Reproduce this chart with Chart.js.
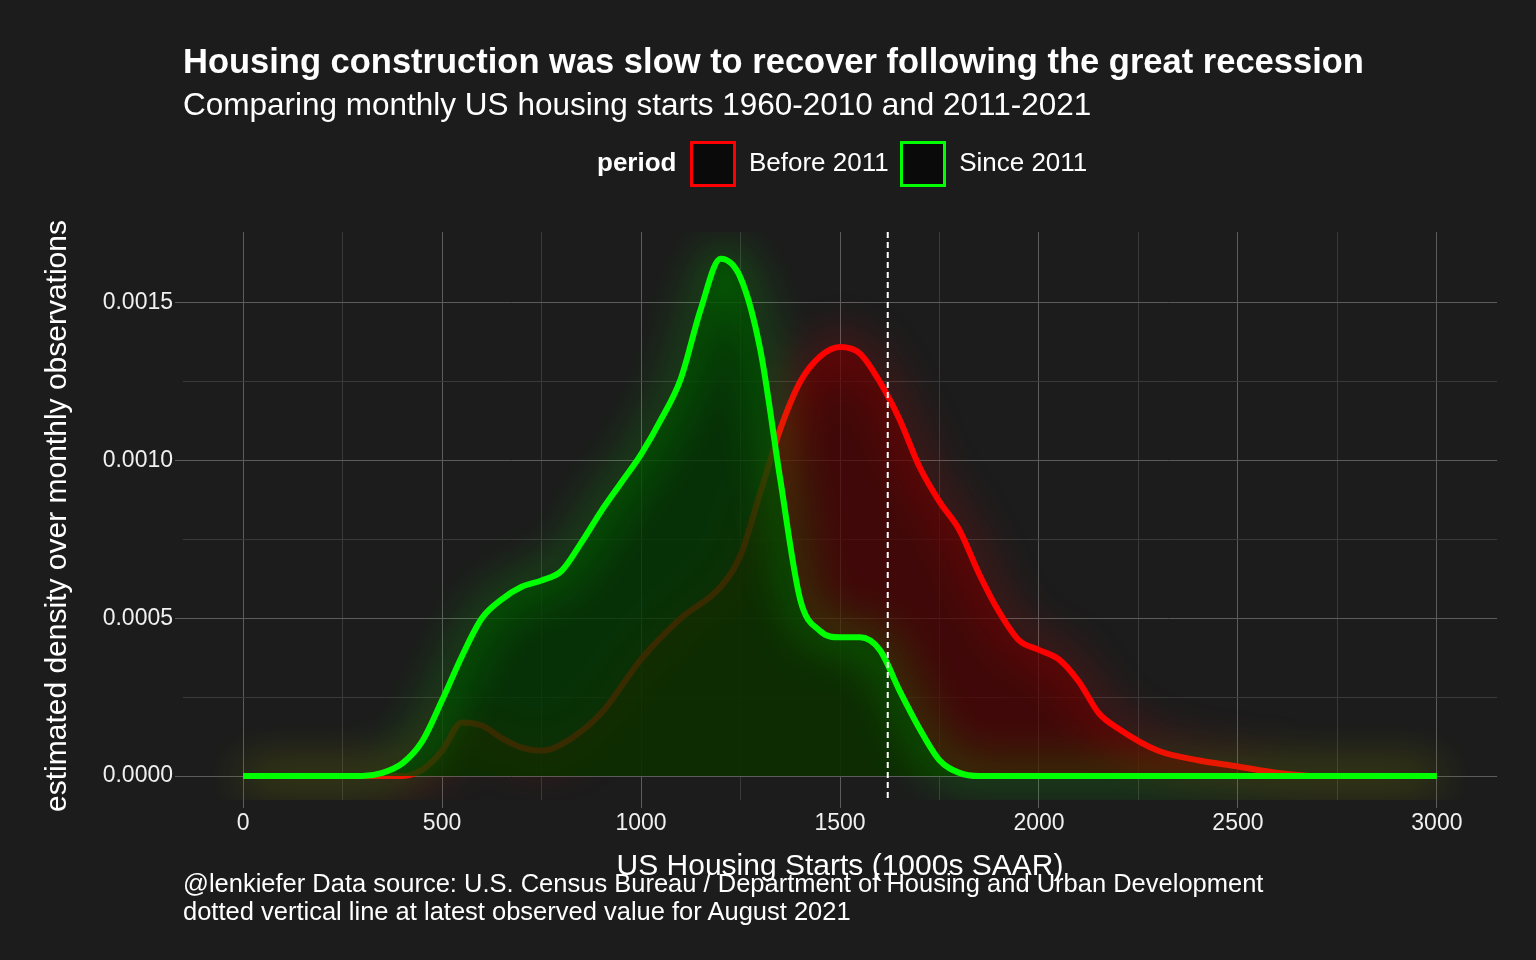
<!DOCTYPE html>
<html>
<head>
<meta charset="utf-8">
<script src="https://cdn.jsdelivr.net/npm/chart.js@4"></script>
<style>
  body { margin: 0; background: #1c1c1c; font-family: "Liberation Sans", Arial, sans-serif; color: #fff; }
  #wrap { position: relative; width: 1536px; height: 960px; }
  canvas { position: absolute; left: 0; top: 0; }
  .t { position: absolute; white-space: nowrap; }
  .box { display: inline-block; width: 46px; height: 46px; box-sizing: border-box; background: #0a0a0a; vertical-align: middle; }
</style>
</head>
<body>
<div id="wrap">
  <canvas id="myChart" width="1536" height="960"></canvas>
  <div class="t" style="left:183px;top:42px;font-size:34.5px;font-weight:bold">Housing construction was slow to recover following the great recession</div>
  <div class="t" style="left:183px;top:86px;font-size:31.5px">Comparing monthly US housing starts 1960-2010 and 2011-2021</div>
  <div class="t" style="left:597px;top:138px;font-size:26px;line-height:48px">
    <b>period</b>
    <span class="box" style="border:3px solid #ff0000;margin-left:6px"></span>
    <span style="margin-left:6px">Before 2011</span>
    <span class="box" style="border:3px solid #00ff00;margin-left:4px"></span>
    <span style="margin-left:6px">Since 2011</span>
  </div>
  <div class="t" style="left:183px;top:869px;font-size:25.5px;line-height:28px">@lenkiefer Data source: U.S. Census Bureau / Department of Housing and Urban Development<br>dotted vertical line at latest observed value for August 2021</div>
</div>
<script>
// Datos
const greenX = [0, 300, 350, 400, 450, 500, 550, 600, 650, 700, 750, 800, 850, 900, 950, 1000, 1050, 1100, 1150, 1200, 1250, 1300, 1350, 1400, 1450, 1500, 1550, 1600, 1650, 1700, 1750, 1800, 1850, 1900, 3000]
const greenY = [0, 0, 0.00001, 0.00004, 0.00011, 0.00024, 0.00038, 0.0005, 0.00056, 0.0006, 0.00062, 0.00065, 0.00074, 0.00084, 0.00093, 0.00102, 0.00113, 0.00126, 0.00148, 0.00164, 0.00158, 0.00135, 0.00094, 0.00056, 0.00046, 0.00044, 0.00044, 0.0004, 0.00027, 0.00015, 0.00005, 0.00001, 0, 0, 0]
const redX = [0, 400, 450, 500, 550, 600, 650, 700, 750, 800, 900, 1000, 1100, 1200, 1250, 1300, 1350, 1400, 1450, 1500, 1550, 1600, 1650, 1700, 1750, 1800, 1850, 1900, 1950, 2000, 2050, 2100, 2150, 2200, 2300, 2400, 2500, 2600, 2700, 3000]
const redY = [0, 0, 0.00002, 0.00008, 0.00017, 0.00016, 0.00012, 0.00009, 0.00008, 0.0001, 0.0002, 0.00037, 0.0005, 0.0006, 0.0007, 0.0009, 0.0011, 0.00125, 0.00133, 0.00136, 0.00134, 0.00125, 0.00113, 0.00098, 0.00087, 0.00078, 0.00064, 0.00052, 0.00043, 0.0004, 0.00037, 0.0003, 0.0002, 0.00015, 0.00008, 0.00005, 0.00003, 0.00001, 0, 0]
const latest = 1620

const toPts = (xs, ys) => xs.map((x, i) => ({x: x, y: ys[i]}))

// Brillo (glow) alrededor de cada línea
const glow = {
  id: 'glow',
  beforeDatasetDraw(chart, args) {
    const ctx = chart.ctx
    ctx.save()
    ctx.shadowColor = args.meta.dataset.options.borderColor
    ctx.shadowBlur = 45
  },
  afterDatasetDraw(chart) { chart.ctx.restore() }
}

// Línea vertical punteada
const vline = {
  id: 'vline',
  afterDatasetsDraw(chart) {
    const {ctx, chartArea, scales} = chart
    const x = scales.x.getPixelForValue(latest)
    ctx.save()
    ctx.strokeStyle = '#ffffff'
    ctx.lineWidth = 2
    ctx.setLineDash([6, 4])
    ctx.beginPath()
    ctx.moveTo(x, chartArea.top)
    ctx.lineTo(x, chartArea.bottom)
    ctx.stroke()
    ctx.restore()
  }
}

const isMajor = c => {
  const step = c.scale.axis === 'x' ? 500 : 0.0005
  const r = c.tick.value / step
  return Math.abs(r - Math.round(r)) < 1e-6
}

const config = {
  type: 'line',
  data: {
    datasets: [
      {
        label: 'Since 2011',
        data: toPts(greenX, greenY),
        borderColor: '#00ff00',
        backgroundColor: 'rgba(0, 55, 0, 0.78)',
        fill: 'origin',
        borderWidth: 6,
        pointRadius: 0,
        cubicInterpolationMode: 'monotone'
      },
      {
        label: 'Before 2011',
        data: toPts(redX, redY),
        borderColor: '#ff0000',
        backgroundColor: 'rgba(80, 0, 0, 0.7)',
        fill: 'origin',
        borderWidth: 6,
        pointRadius: 0,
        cubicInterpolationMode: 'monotone'
      }
    ]
  },
  options: {
    responsive: false,
    animation: false,
    layout: { padding: { left: 0, top: 232, right: 39, bottom: 75 } },
    plugins: { legend: { display: false }, tooltip: { enabled: false } },
    scales: {
      x: {
        type: 'linear',
        min: -151, max: 3151,
        afterBuildTicks: s => { s.ticks = []; for (let v = 0; v <= 3000; v += 250) s.ticks.push({value: v}) },
        afterFit: s => { s.height = 85 },
        border: { display: false },
        grid: { color: c => isMajor(c) ? '#5c5c5c' : '#3a3a3a', tickLength: 8, tickColor: c => isMajor(c) ? '#5c5c5c' : 'transparent' },
        ticks: { color: '#f0f0f0', font: { size: 23, family: 'Liberation Sans' }, maxRotation: 0, padding: 2,
                 callback: v => v % 500 === 0 ? v : '' },
        title: { display: true, text: 'US Housing Starts (1000s SAAR)', color: '#fff', font: { size: 30, family: 'Liberation Sans' }, padding: 0 }
      },
      y: {
        min: -0.000076, max: 0.001725,
        afterBuildTicks: s => { s.ticks = []; for (let i = 0; i <= 6; i++) s.ticks.push({value: i * 0.00025}) },
        afterFit: s => { s.width = 183 },
        border: { display: false },
        grid: { color: c => isMajor(c) ? '#5c5c5c' : '#3a3a3a', tickLength: 8, tickColor: c => isMajor(c) ? '#5c5c5c' : 'transparent' },
        ticks: { color: '#f0f0f0', font: { size: 23, family: 'Liberation Sans' }, padding: 2,
                 callback: v => Math.round(v / 0.00025) % 2 === 0 ? v.toFixed(4) : '' },
        title: { display: true, text: 'estimated density over monthly observations', color: '#fff', font: { size: 30, family: 'Liberation Sans' }, padding: { top: 40, bottom: 0 } }
      }
    }
  },
  plugins: [glow, vline]
}

const myChart = new Chart(document.getElementById('myChart'), config)
</script>
</body>
</html>
